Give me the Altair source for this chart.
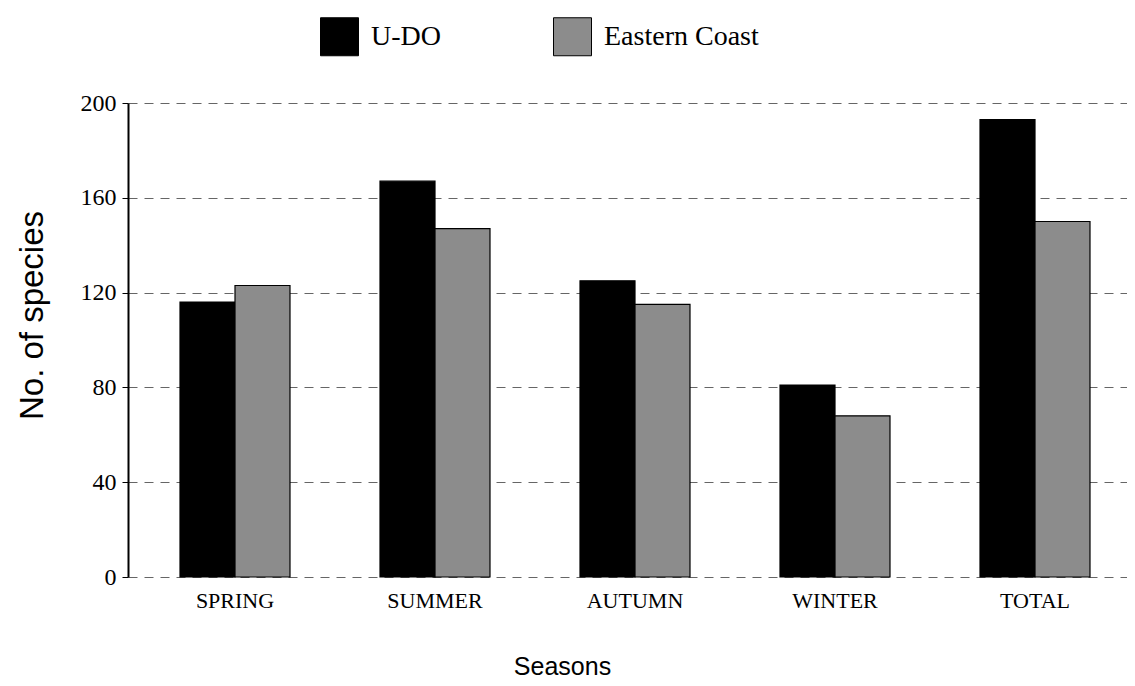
import altair as alt
import pandas as pd

seasons = ["SPRING", "SUMMER", "AUTUMN", "WINTER", "TOTAL"]
series_names = ["U-DO", "Eastern Coast"]
udo_values = [116, 167, 125, 81, 193]
eastern_values = [123, 147, 115, 68, 150]
y_ticks = [0, 40, 80, 120, 160, 200]

rows = []
for s, u, e in zip(seasons, udo_values, eastern_values):
    rows.append({"season": s, "series": series_names[0], "value": u})
    rows.append({"season": s, "series": series_names[1], "value": e})
df = pd.DataFrame(rows)

W, H = 999, 474

chart = alt.Chart(df).mark_bar(stroke="black", strokeWidth=1.2).encode(
    x=alt.X(
        "season:N",
        sort=seasons,
        scale=alt.Scale(paddingInner=0.45, paddingOuter=0.26, range=[0, 1014]),
        axis=alt.Axis(
            title="Seasons",
            labelAngle=0,
            labelFont="Liberation Serif",
            labelFontSize=22,
            labelColor="black",
            labelPadding=13,
            domain=False,
            ticks=False,
            grid=False,
            titleFont="Liberation Sans",
            titleFontSize=25,
            titleFontWeight="normal",
            titleColor="black",
            titleX=434,
            titleY=89,
            titleAlign="center",
            titleBaseline="middle",
        ),
    ),
    xOffset=alt.XOffset("series:N", sort=series_names),
    y=alt.Y(
        "value:Q",
        scale=alt.Scale(domain=[0, 200], nice=False),
        axis=alt.Axis(
            values=y_ticks,
            title="No. of species",
            labelFont="Liberation Serif",
            labelFontSize=24,
            labelColor="black",
            labelPadding=6,
            domainColor="black",
            domainWidth=2,
            tickColor="black",
            tickSize=6,
            grid=True,
            gridColor="#333333",
            gridDash=[9, 7],
            gridWidth=1,
            gridOpacity=0.75,
            titleFont="Liberation Sans",
            titleFontSize=33,
            titleFontWeight="normal",
            titleColor="black",
            titleX=-96,
            titleY=212,
            titleAngle=270,
            titleAlign="center",
            titleBaseline="middle",
        ),
    ),
    color=alt.Color(
        "series:N",
        sort=series_names,
        scale=alt.Scale(domain=series_names, range=["#000000", "#8c8c8c"]),
        legend=alt.Legend(
            title=None,
            orient="none",
            legendX=192,
            legendY=-86,
            direction="horizontal",
            symbolType="square",
            symbolSize=1444,
            symbolStrokeColor="black",
            symbolStrokeWidth=1,
            labelFont="Liberation Serif",
            labelFontSize=28,
            labelColor="black",
            labelOffset=12,
            columnPadding=110,
        ),
    ),
).properties(
    width=W,
    height=H,
    autosize="none",
    padding={"left": 120, "top": 95, "right": 0, "bottom": 106},
).configure_view(stroke=None)

chart.save("out.html", embed_options={"renderer": "svg", "actions": False})
